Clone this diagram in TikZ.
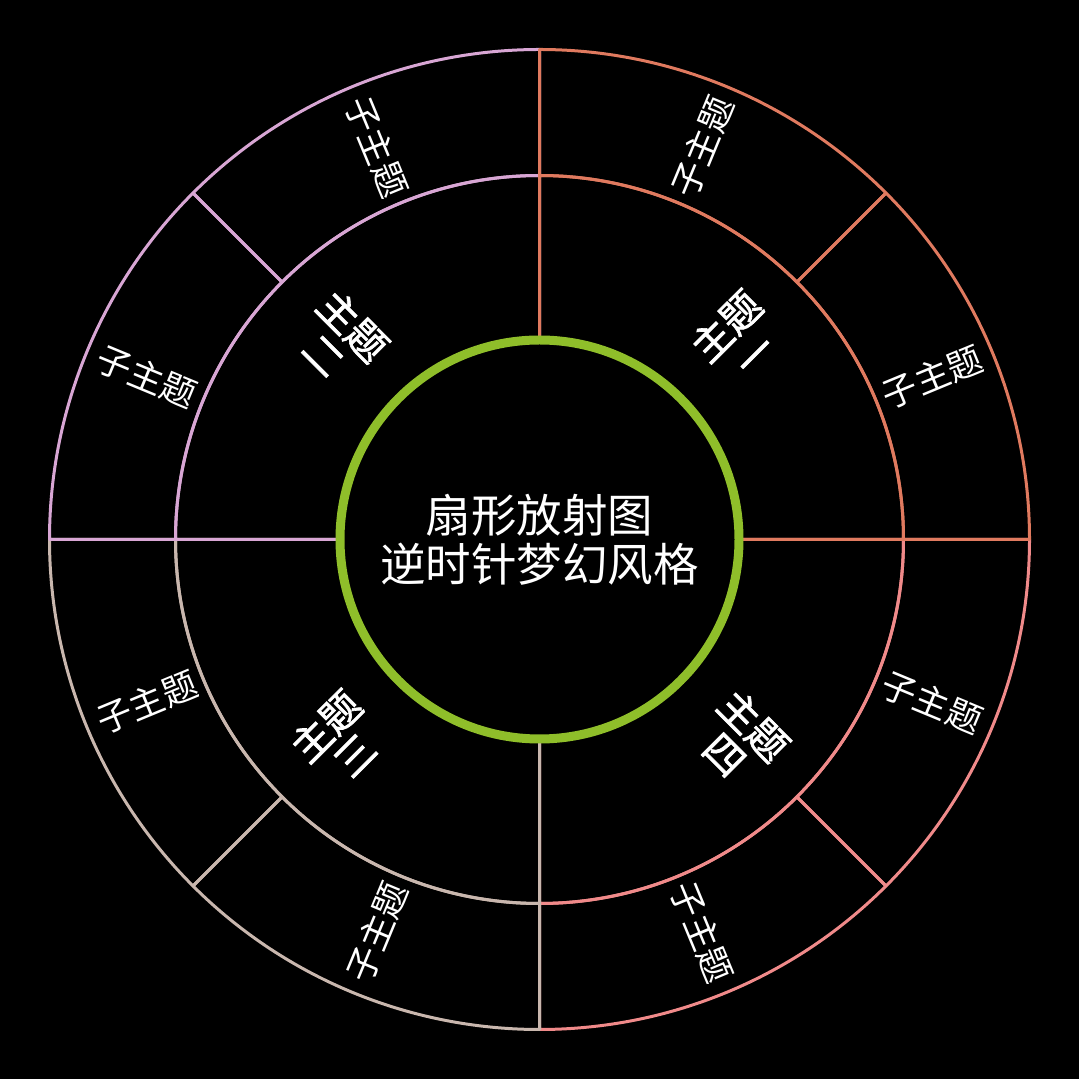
\documentclass[tikz,border=0pt]{standalone}
\usepackage{fontspec}
\setmainfont{Noto Sans CJK SC}
\newfontfamily\topicfont[FakeBold=1.6]{Noto Sans CJK SC}
\definecolor{qone}{HTML}{E07A5F}
\definecolor{qtwo}{HTML}{D8A6D4}
\definecolor{qthree}{HTML}{C9B7AE}
\definecolor{qfour}{HTML}{F08A8A}
\definecolor{hub}{HTML}{8FBE2A}
\tikzset{
  ring/.style={line width=3pt, line join=round},
  hubtext/.style={text=white, font=\fontsize{45.5}{49}\selectfont, align=center, inner sep=0pt},
  topictext/.style={text=white, font=\topicfont\fontsize{40}{41}\selectfont, align=center, inner sep=0pt},
  subtext/.style={text=white, font=\fontsize{35}{38}\selectfont, inner sep=0pt},
}
\newcommand{\quadsector}[2]{%
  \draw[ring,#2] (#1:201) -- (#1:364) arc[start angle=#1, end angle=#1+90, radius=364] -- (#1+90:201);
  \draw[ring,#2] (#1:364) -- (#1:490) arc[start angle=#1, end angle=#1+45, radius=490] -- (#1+45:364)
                 arc[start angle=#1+45, end angle=#1, radius=364] -- cycle;
  \draw[ring,#2] (#1+45:364) -- (#1+45:490) arc[start angle=#1+45, end angle=#1+90, radius=490] -- (#1+90:364)
                 arc[start angle=#1+90, end angle=#1+45, radius=364] -- cycle;
}
\begin{document}
\begin{tikzpicture}[x=1pt,y=1pt]
\fill[black] (0,0) rectangle (1079,1079);
\useasboundingbox (0,0) rectangle (1079,1079);
\begin{scope}[shift={(539.5,539.5)}]
  \quadsector{270}{qfour}
  \quadsector{180}{qthree}
  \quadsector{90}{qtwo}
  \quadsector{0}{qone}
  \draw[hub, line width=9pt] (0,0) circle[radius=199.5];
  \node[hubtext] (hubnode) at (0,0) {扇形放射图\\逆时针梦幻风格};
  \node[topictext, rotate=45]  (t1) at (45:283)  {主题\\一};
  \node[topictext, rotate=-45] (t2) at (135:283) {主题\\二};
  \node[topictext, rotate=45]  (t3) at (225:283) {主题\\三};
  \node[topictext, rotate=-45] (t4) at (315:283) {主题\\四};
  \node[subtext, rotate=22.5]  (s1) at (22.5:425)  {子主题};
  \node[subtext, rotate=67.5]  (s2) at (67.5:425)  {子主题};
  \node[subtext, rotate=-67.5] (s3) at (112.5:425) {子主题};
  \node[subtext, rotate=-22.5] (s4) at (157.5:425) {子主题};
  \node[subtext, rotate=22.5]  (s5) at (202.5:425) {子主题};
  \node[subtext, rotate=67.5]  (s6) at (247.5:425) {子主题};
  \node[subtext, rotate=-67.5] (s7) at (292.5:425) {子主题};
  \node[subtext, rotate=-22.5] (s8) at (337.5:425) {子主题};
\end{scope}
\end{tikzpicture}
\end{document}
